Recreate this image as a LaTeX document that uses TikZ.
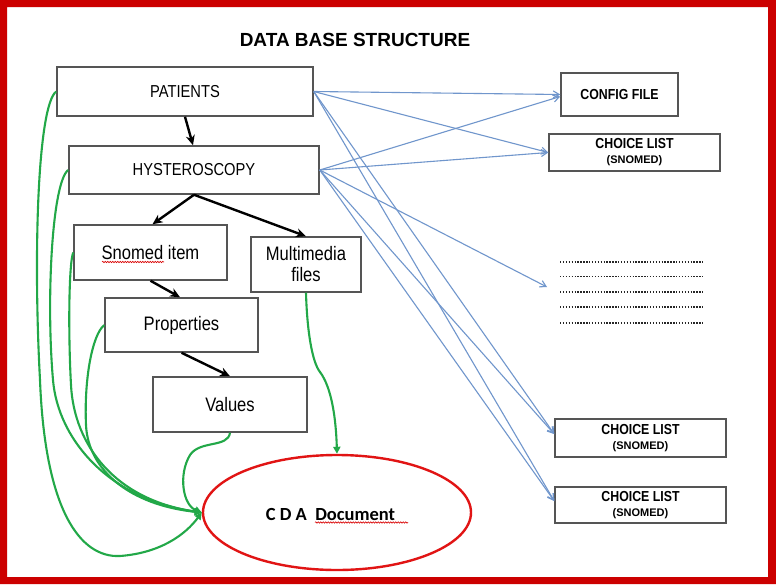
\documentclass[tikz,border=0pt]{standalone}
\usepackage{fontspec}
\setmainfont{Liberation Sans}
\newfontfamily\arialc[FakeStretch=0.85]{Liberation Sans}
\newfontfamily\calib{Carlito}
\usetikzlibrary{shapes.geometric,arrows.meta,calc,decorations.pathmorphing}
\definecolor{frameRed}{RGB}{204,0,0}
\definecolor{ellRed}{RGB}{225,20,20}
\definecolor{grn}{RGB}{34,168,72}
\definecolor{blu}{RGB}{112,150,204}
\definecolor{boxgray}{RGB}{85,85,85}
\begin{document}
\begin{tikzpicture}[x=1pt,y=-1pt,
  box/.style={draw=boxgray, line width=1.5pt, fill=white, inner sep=0pt, align=center},
  lowfont/.style={font=\arialc\fontsize{19.5}{21}\selectfont},
  topfont/.style={font=\arialc\fontsize{17.3}{20}\selectfont},
  blkarrow/.style={line width=2.4pt, -{Stealth[length=10pt,width=9pt]}},
  bluarrow/.style={draw=blu, line width=1.1pt, -{Straight Barb[length=6pt,width=7pt]}},
  grnarrow/.style={draw=grn, line width=2.1pt, -{Triangle[length=7pt,width=7pt]}},
  squig/.style={draw=red!85!black, line width=0.6pt, decorate, decoration={snake, amplitude=0.7pt, segment length=2.5pt}},
  dotline/.style={line width=1.6pt, dash pattern=on 1.4pt off 1.5pt, black!85}
]
\useasboundingbox (0,0) rectangle (776,584);
\fill[white] (0,0) rectangle (776,584);
\fill[frameRed, even odd rule] (0,0) rectangle (776,584) (7,7) rectangle (768,577);

\node[font=\fontsize{19}{22}\selectfont\bfseries] (title) at (355,40) {DATA BASE STRUCTURE};

% left boxes
\node[box, topfont, minimum width=256pt, minimum height=49pt] (pat) at (185,91.5) {PATIENTS};
\node[box, topfont, minimum width=250pt, minimum height=48pt] (hy) at (194,170) {HYSTEROSCOPY};
\node[box, lowfont, minimum width=153pt, minimum height=55pt] (sn) at (150.5,252.5) {Snomed item};
\node[box, lowfont, minimum width=110pt, minimum height=55pt] (mm) at (306,264.5) {Multimedia\\files};
\node[box, lowfont, minimum width=153pt, minimum height=54pt] (pr) at (181.5,325) {Properties};
\node[box, lowfont, minimum width=154pt, minimum height=55pt] (va) at (230,404.5) {Values};

% CDA
\node[ellipse, draw=ellRed, line width=2.4pt, minimum width=268pt, minimum height=115pt, inner sep=0pt] (cda) at (337,512.5) {};
\node[font=\calib\bfseries\fontsize{18.5}{20}\selectfont] (cdat) at (330.5,514) {C D A\ \ Document};
\draw[squig] ($(sn.center)+(-48.5,9.5)$) -- ++(62,0);
\draw[squig] ($(cda.center)+(-22,10)$) -- ++(93,0);

% right boxes
\node[box, font=\arialc\bfseries\fontsize{14.5}{16}\selectfont, minimum width=117pt, minimum height=43pt] (cfg) at (619.5,94.5) {CONFIG FILE};
\node[box, font=\bfseries, minimum width=171pt, minimum height=37pt] (cl1) at (634.5,152.5) {\arialc\fontsize{14.5}{15}\selectfont CHOICE LIST\\[3pt]\fontsize{11}{14}\selectfont (SNOMED)};
\node[box, font=\bfseries, minimum width=171pt, minimum height=38pt] (cl2) at (640.5,438) {\arialc\fontsize{14.5}{15}\selectfont CHOICE LIST\\[3pt]\fontsize{11}{14}\selectfont (SNOMED)};
\node[box, font=\bfseries, minimum width=171pt, minimum height=36pt] (cl3) at (640.5,505) {\arialc\fontsize{14.5}{15}\selectfont CHOICE LIST\\[3pt]\fontsize{11}{14}\selectfont (SNOMED)};

% dotted lines
\foreach \yy in {262,276.5,292,307,323} \draw[dotline] (560,\yy) -- (703,\yy);
\coordinate (dotend) at (547,287);

% black arrows
\draw[blkarrow] (pat.south) -- ([xshift=-1pt]hy.north);
\draw[blkarrow] (hy.south) -- ([xshift=2pt]sn.north);
\draw[blkarrow] (hy.south) -- (mm.north);
\draw[blkarrow] (sn.south) -- ([xshift=-1.5pt]pr.north);
\draw[blkarrow] (pr.south) -- (va.north);

% blue arrows
\draw[bluarrow] (pat.east) -- (cfg.west);
\draw[bluarrow] (pat.east) -- (cl1.west);
\draw[bluarrow] (pat.east) -- ([yshift=4pt]cl2.west);
\draw[bluarrow] (pat.east) -- ([yshift=4pt]cl3.west);
\draw[bluarrow] (hy.east) -- ([yshift=-2pt]cfg.west);
\draw[bluarrow] (hy.east) -- (cl1.west);
\draw[bluarrow] (hy.east) -- (dotend);
\draw[bluarrow] (hy.east) -- ([yshift=4pt]cl2.west);
\draw[bluarrow] (hy.east) -- ([yshift=4pt]cl3.west);

% green curves
\draw[grnarrow] (pat.west) .. controls (38,105) and (33,250) .. (40,380) .. controls (45,510) and (80,558) .. (120,556) .. controls (160,553) and (185,535) .. (cda.west);
\draw[grnarrow] (hy.west) .. controls (52,182) and (46,300) .. (53,380) .. controls (58,440) and (110,500) .. (cda.west);
\draw[grnarrow] (sn.west) .. controls (69,262) and (68,330) .. (71,385) .. controls (74,445) and (115,500) .. (cda.west);
\draw[grnarrow] (pr.west) .. controls (92,335) and (84,380) .. (86,425) .. controls (88,470) and (130,505) .. (cda.west);
\draw[grnarrow] (va.south) .. controls (228,448) and (200,440) .. (190,455) .. controls (178,475) and (183,505) .. (cda.west);
\draw[grnarrow] (mm.south) .. controls (307,330) and (312,362) .. (320,372) .. controls (332,388) and (336,420) .. (cda.north);
\end{tikzpicture}
\end{document}
